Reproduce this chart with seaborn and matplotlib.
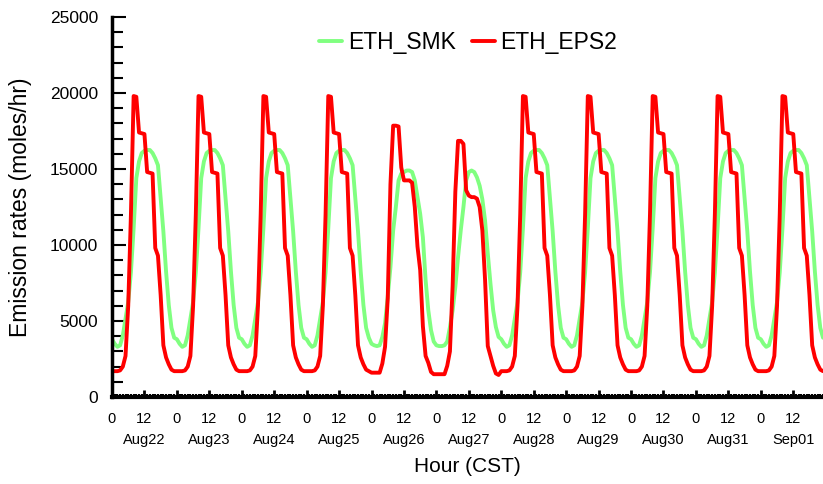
import numpy as np
import pandas as pd
import matplotlib
matplotlib.use("Agg")
import matplotlib.pyplot as plt
import matplotlib.transforms as mtransforms
from matplotlib.ticker import MultipleLocator, FixedLocator, FixedFormatter
import seaborn as sns

# Day labels along the hour axis and which hourly profile each day follows
days = ["Aug22", "Aug23", "Aug24", "Aug25", "Aug26", "Aug27",
        "Aug28", "Aug29", "Aug30", "Aug31", "Sep01"]
day_kind = ["weekday", "weekday", "weekday", "weekday", "saturday", "sunday",
            "weekday", "weekday", "weekday", "weekday", "weekday"]

# Hourly ethane emission rates (moles/hr), hours 0..23 CST
smk_weekday = [3800, 3500, 3300, 3400, 4050, 5150, 6250, 8200, 11100, 14400, 15500, 16050,
               16200, 16250, 16250, 16050, 15700, 15250, 13100, 10900, 8250, 6050, 4550, 3900]
smk_saturday = [3500, 3400, 3350, 3400, 3950, 4850, 6600, 8550, 10950, 12500, 14250, 14700,
                14800, 14900, 14900, 14800, 14250, 13150, 12050, 10500, 7700, 5700, 4400, 3650]
smk_sunday = [3400, 3350, 3350, 3400, 3650, 4600, 5700, 7250, 9200, 10950, 12500, 14250,
              14800, 14900, 14800, 14450, 13900, 13000, 11600, 9450, 7450, 5700, 4600, 3950]

eps_weekday = [1700, 1700, 1700, 1750, 2000, 2700, 6000, 12000, 19800, 19750, 17400, 17350,
               17300, 14800, 14750, 14700, 9800, 9300, 6700, 3400, 2600, 2150, 1800, 1700]
eps_saturday = [1600, 1600, 1600, 1600, 2200, 3300, 6500, 14000, 17850, 17850, 17800, 15100,
                14250, 14250, 14250, 14100, 12500, 9900, 8350, 4650, 2700, 2250, 1650, 1500]
eps_sunday = [1500, 1500, 1500, 1500, 2050, 3000, 7300, 13500, 16850, 16850, 16650, 13600,
              13250, 13150, 13150, 13050, 12500, 10950, 7700, 3350, 2700, 2050, 1550, 1450]

smk_profiles = {"weekday": smk_weekday, "saturday": smk_saturday, "sunday": smk_sunday}
eps_profiles = {"weekday": eps_weekday, "saturday": eps_saturday, "sunday": eps_sunday}

smk = np.concatenate([smk_profiles[k] for k in day_kind])
eps = np.concatenate([eps_profiles[k] for k in day_kind])
hours = np.arange(len(smk))
n = len(hours)

df = pd.DataFrame({
    "hour": np.concatenate([hours, hours]),
    "rate": np.concatenate([smk, eps]),
    "species": ["ETH_SMK"] * n + ["ETH_EPS2"] * n,
})

sns.set_style("ticks")
plt.rcParams["font.family"] = ["Liberation Sans", "DejaVu Sans"]
plt.rcParams.update({
    "text.color": "black",
    "axes.labelcolor": "black",
    "axes.edgecolor": "black",
    "xtick.color": "black",
    "ytick.color": "black",
})

W, H = 823, 484
fig = plt.figure(figsize=(W / 100, H / 100), dpi=100)
x0, x1, y0, y1 = 112, 823, 17, 397
ax = fig.add_axes([x0 / W, (H - y1) / H, (x1 - x0) / W, (y1 - y0) / H])

palette = {"ETH_SMK": "#80ff80", "ETH_EPS2": "#ff0000"}
sns.lineplot(data=df, x="hour", y="rate", hue="species",
             hue_order=["ETH_SMK", "ETH_EPS2"], palette=palette,
             estimator=None, linewidth=2.8, legend=False, ax=ax)

ax.set_xlim(0, 263)
ax.set_ylim(0, 25000)

for side in ("top", "right"):
    ax.spines[side].set_visible(False)
ax.spines["left"].set_linewidth(2.5)
ax.spines["bottom"].set_linewidth(3)

# y axis: labelled every 5000, small ticks every 1000
ax.yaxis.set_major_locator(MultipleLocator(5000))
ax.yaxis.set_minor_locator(MultipleLocator(1000))
ax.tick_params(axis="y", which="major", direction="in", length=10, width=1.5,
               labelsize=12.5, pad=10)
ax.tick_params(axis="y", which="minor", direction="in", length=8, width=1.5)

# x axis: hour-of-day labels every 12 h, small ticks every hour
major_hours = list(range(0, 264, 12))
ax.xaxis.set_major_locator(FixedLocator(major_hours))
ax.xaxis.set_major_formatter(FixedFormatter([str(h % 24) for h in major_hours]))
ax.xaxis.set_minor_locator(MultipleLocator(1))
ax.tick_params(axis="x", which="major", direction="in", length=5, width=2,
               labelsize=10.5, pad=11)
ax.tick_params(axis="x", which="minor", direction="in", length=2.5, width=1.5)

trans = mtransforms.blended_transform_factory(ax.transData, ax.transAxes)
for d, name in enumerate(days):
    ax.text(d * 24 + 12, -0.113, name, transform=trans, ha="center", va="center",
            fontsize=10.5)

ax.set_xlabel("Hour (CST)", fontsize=15)
ax.xaxis.set_label_coords(0.5, -0.184)
ax.xaxis.label.set_va("center")
ax.set_ylabel("Emission rates (moles/hr)", fontsize=16.5)
ax.yaxis.set_label_coords(-0.129, 0.5)
ax.yaxis.label.set_va("center")

ax.legend(handles=ax.lines[:2], labels=["ETH_SMK", "ETH_EPS2"], loc="center",
          bbox_to_anchor=(0.501, 0.934), ncol=2, frameon=False, fontsize=16.5,
          handlelength=1.0, handletextpad=0.25, columnspacing=0.7)

fig.savefig("out.png", dpi=100)
